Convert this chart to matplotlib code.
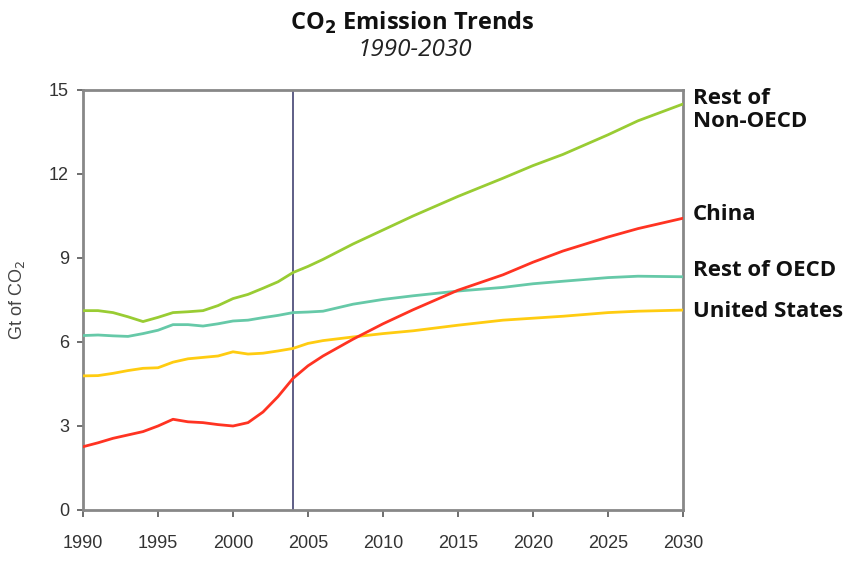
import matplotlib
matplotlib.use("Agg")
import matplotlib.pyplot as plt

years = [1990, 1991, 1992, 1993, 1994, 1995, 1996, 1997, 1998, 1999, 2000, 2001, 2002,
         2003, 2004, 2005, 2006, 2008, 2010, 2012, 2015, 2018, 2020, 2022, 2025, 2027, 2030]

rest_non_oecd = [7.12, 7.12, 7.05, 6.9, 6.73, 6.88, 7.05, 7.08, 7.12, 7.3, 7.55, 7.7, 7.92,
                 8.15, 8.48, 8.7, 8.95, 9.5, 10.0, 10.5, 11.2, 11.85, 12.3, 12.7, 13.4, 13.9, 14.5]
rest_oecd = [6.23, 6.25, 6.22, 6.2, 6.3, 6.42, 6.62, 6.62, 6.57, 6.65, 6.75, 6.78, 6.87,
             6.95, 7.05, 7.07, 7.1, 7.35, 7.52, 7.65, 7.82, 7.95, 8.08, 8.17, 8.3, 8.35, 8.33]
united_states = [4.79, 4.8, 4.88, 4.98, 5.06, 5.08, 5.28, 5.4, 5.45, 5.5, 5.65, 5.57, 5.6,
                 5.68, 5.77, 5.95, 6.05, 6.18, 6.3, 6.4, 6.6, 6.78, 6.85, 6.92, 7.05, 7.1, 7.14]
china = [2.26, 2.4, 2.56, 2.68, 2.8, 3.0, 3.24, 3.15, 3.12, 3.05, 3.0, 3.12, 3.5,
         4.05, 4.7, 5.15, 5.5, 6.1, 6.65, 7.15, 7.85, 8.4, 8.85, 9.25, 9.75, 10.05, 10.42]

series_labels = ["Rest of\nNon-OECD", "China", "Rest of OECD", "United States"]
label_y = [14.29, 10.57, 8.57, 7.1]
x_ticks = [1990, 1995, 2000, 2005, 2010, 2015, 2020, 2025, 2030]
y_ticks = [0, 3, 6, 9, 12, 15]
divider_year = 2004

fig = plt.figure(figsize=(8.59, 5.61), dpi=100)
ax = fig.add_axes([83/859, 1-510/561, 600/859, 420/561])

colors = ["#99cc33", "#ff3322", "#66c9a8", "#ffcc11"]
data = [rest_non_oecd, china, rest_oecd, united_states]
order = [2, 3, 0, 1]
for i in order:
    ax.plot(years, data[i], color=colors[i], lw=2.0, solid_capstyle="round", zorder=3)

ax.axvline(divider_year, color="#333366", lw=1.1, zorder=2)

ax.set_xlim(1990, 2030)
ax.set_ylim(0, 15)
ax.set_xticks(x_ticks)
ax.set_yticks(y_ticks)
for sp in ax.spines.values():
    sp.set_color("#888888")
    sp.set_linewidth(2)
ax.tick_params(axis="both", direction="out", color="#555555", width=1.2,
               labelcolor="#333333", labelsize=13)
ax.tick_params(axis="x", length=5, pad=13)
ax.tick_params(axis="y", length=4, pad=6)
for lbl in ax.get_xticklabels() + ax.get_yticklabels():
    lbl.set_fontfamily(["Liberation Sans Narrow", "Liberation Sans"])

ax.set_ylabel("Gt of CO$_2$", fontsize=13, color="#444444", labelpad=16,
              fontfamily=["Liberation Sans Narrow", "Liberation Sans"])

for txt, yv in zip(series_labels, label_y):
    ax.text(1.0167, yv, txt, transform=ax.get_yaxis_transform(), fontsize=16,
            fontweight="bold", family="Open Sans", color="#111111", va="center", ha="left",
            linespacing=1.12, clip_on=False)

fig.text(412/859, 1-23/561, "CO$_\\mathbf{2}$ Emission Trends", fontsize=17,
         fontweight="bold", family="Open Sans", ha="center", va="center", color="#111111")
fig.text(415/859, 1-50/561, "1990-2030", fontsize=17.5, style="italic",
         family="Open Sans", ha="center", va="center", color="#222222")

fig.savefig("out.png", dpi=100, facecolor="white")
